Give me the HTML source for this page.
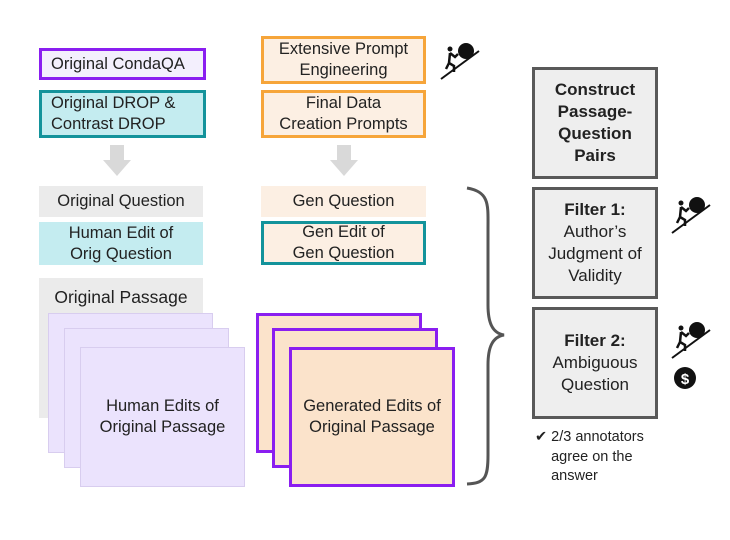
<!DOCTYPE html>
<html><head><meta charset="utf-8"><style>
body{margin:0;width:730px;height:540px;background:#fff;position:relative;overflow:hidden;font-family:"Liberation Sans",sans-serif;color:#222}
.b{position:absolute;box-sizing:border-box;display:flex;align-items:center;justify-content:center;text-align:center;font-size:16.5px;line-height:21px}
.g{background:#ebebeb}
.gbox{background:#eeeeee;border:3px solid #595959;font-size:17px;line-height:22px}
.s{position:absolute}
</style></head><body>
<div class="b" style="left:39px;top:48px;width:167px;height:32px;border:3px solid #8a1ef0;background:#f3effd;justify-content:flex-start;padding-left:9px">Original CondaQA</div>
<div class="b" style="left:39px;top:90px;width:167px;height:48px;border:3px solid #13939b;background:#c4ecf0;justify-content:flex-start;text-align:left;padding-left:9px">Original DROP &amp;<br>Contrast DROP</div>
<div class="b" style="left:261px;top:36px;width:165px;height:48px;border:3px solid #f6a53a;background:#fcefe3">Extensive Prompt<br>Engineering</div>
<div class="b" style="left:261px;top:90px;width:165px;height:48px;border:3px solid #f6a53a;background:#fcefe3">Final Data<br>Creation Prompts</div>
<svg class="s" style="left:0;top:0" width="730" height="540">
<defs>
<g id="sis"><line x1="0" y1="38" x2="38" y2="10" stroke="#111" stroke-width="2"/><circle cx="25" cy="10" r="8" fill="#111"/><circle cx="9" cy="8" r="2.5" fill="#111"/><path d="M9,12 L14,16 L17,13 M9,12 L8,22 L13,25 L13,31 M8,22 L5,28" stroke="#111" stroke-width="2.5" fill="none"/></g>
</defs>
<polygon points="110,145 124,145 124,160 131,160 117,176 103,160 110,160" fill="#d9d9d9"/>
<polygon points="337,145 351,145 351,160 358,160 344,176 330,160 337,160" fill="#d9d9d9"/>
<path d="M467,188 C490,192 488,205 488,230 L488,305 C488,322 492,333 504,335 C492,337 488,348 488,365 L488,455 C488,478 485,483 467,484" fill="none" stroke="#555" stroke-width="3"/>
<use href="#sis" x="441" y="41"/>
<use href="#sis" x="672" y="195"/>
<use href="#sis" x="672" y="320"/>
<circle cx="685" cy="378" r="11" fill="#111"/>
<text x="685" y="384" fill="#fff" font-size="15" font-weight="bold" text-anchor="middle" font-family="Liberation Sans">$</text>
</svg>
<div class="b g" style="left:39px;top:186px;width:164px;height:31px">Original Question</div>
<div class="b" style="left:39px;top:222px;width:164px;height:43px;background:#c4ecf0">Human Edit of<br>Orig Question</div>
<div class="b" style="left:261px;top:186px;width:165px;height:31px;background:#fcefe3">Gen Question</div>
<div class="b" style="left:261px;top:221px;width:165px;height:44px;border:3px solid #13939b;background:#fcefe3">Gen Edit of<br>Gen Question</div>
<div class="b g" style="left:39px;top:278px;width:164px;height:140px;align-items:flex-start;padding-top:9px;font-size:17.5px">Original Passage</div>
<div class="b" style="left:48px;top:313px;width:165px;height:140px;background:#ebe3fd;border:1px solid #d8cdef"></div>
<div class="b" style="left:64px;top:328px;width:165px;height:140px;background:#ebe3fd;border:1px solid #d8cdef"></div>
<div class="b" style="left:80px;top:347px;width:165px;height:140px;background:#ebe3fd;border:1px solid #d8cdef">Human Edits of<br>Original Passage</div>
<div class="b" style="left:256px;top:313px;width:166px;height:140px;background:#fbe3cb;border:3px solid #8a1ef0"></div>
<div class="b" style="left:272px;top:328px;width:166px;height:140px;background:#fbe3cb;border:3px solid #8a1ef0"></div>
<div class="b" style="left:289px;top:347px;width:166px;height:140px;background:#fbe3cb;border:3px solid #8a1ef0">Generated Edits of<br>Original Passage</div>
<div class="b gbox" style="left:532px;top:67px;width:126px;height:112px;font-weight:bold">Construct<br>Passage-<br>Question<br>Pairs</div>
<div class="b gbox" style="left:532px;top:187px;width:126px;height:112px"><div><b>Filter 1:</b><br>Author’s<br>Judgment of<br>Validity</div></div>
<div class="b gbox" style="left:532px;top:307px;width:126px;height:112px"><div><b>Filter 2:</b><br>Ambiguous<br>Question</div></div>
<div class="s" style="left:535px;top:428px;font-size:14.5px;line-height:19.5px">✔ 2/3 annotators<br>&nbsp;&nbsp;&nbsp;&nbsp;agree on the<br>&nbsp;&nbsp;&nbsp;&nbsp;answer</div>
</body></html>
